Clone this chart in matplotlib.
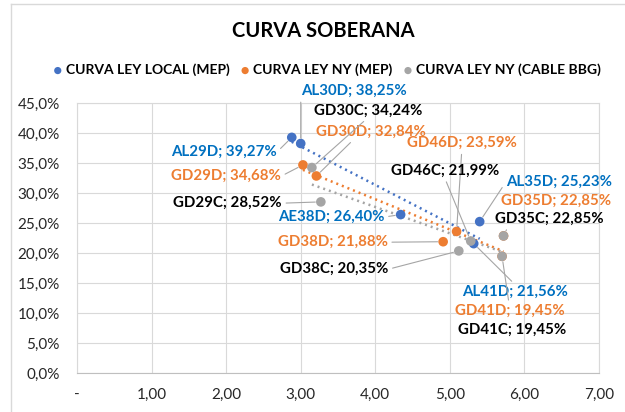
import numpy as np
import matplotlib
matplotlib.use("Agg")
import matplotlib.pyplot as plt
from matplotlib.ticker import FuncFormatter, MultipleLocator
from matplotlib.lines import Line2D

plt.rcParams['font.family'] = ['Lato', 'DejaVu Sans']

# Curva ley local (MEP)
local_nombres = ["AL29D", "AL30D", "AE38D", "AL35D", "AL41D"]
local_dur = [2.88, 3.00, 4.34, 5.40, 5.32]
local_tir = [39.27, 38.25, 26.40, 25.23, 21.56]

# Curva ley NY (MEP)
ny_nombres = ["GD29D", "GD30D", "GD38D", "GD46D", "GD35D", "GD41D"]
ny_dur = [3.03, 3.21, 4.91, 5.09, 5.72, 5.70]
ny_tir = [34.68, 32.84, 21.88, 23.59, 22.85, 19.45]

# Curva ley NY (cable BBG)
cable_nombres = ["GD29C", "GD30C", "GD38C", "GD46C", "GD35C", "GD41C"]
cable_dur = [3.27, 3.15, 5.12, 5.28, 5.72, 5.70]
cable_tir = [28.52, 34.24, 20.35, 21.99, 22.85, 19.45]

AZUL = "#4472C4"
NARANJA = "#ED7D31"
GRIS = "#A5A5A5"
AZUL_TXT = "#0070C0"

fig = plt.figure(figsize=(6.25, 4.12), dpi=100)
ax = fig.add_axes([77/625, 39/412, 522/625, 270/412])

# posicion de cada etiqueta (en datos) y punto de enganche de la linea guia
etiquetas = {
    "AL29D": ((1.97, 36.8), (1, 0.5)),
    "AL30D": ((3.71, 47.0), (0, 0.5)),
    "AE38D": ((3.41, 26.0), (1, 0.5)),
    "AL35D": ((6.46, 31.8), (0, 0.5)),
    "AL41D": ((5.88, 13.5), (0.5, 1)),
    "GD29D": ((2.00, 32.8), (1, 0.5)),
    "GD30D": ((3.94, 40.2), (0.35, 0)),
    "GD38D": ((3.43, 21.8), (1, 0.5)),
    "GD46D": ((5.16, 38.3), (0.5, 0)),
    "GD35D": ((6.43, 28.7), None),
    "GD41D": ((5.80, 10.3), (0.5, 0.8)),
    "GD29C": ((2.02, 28.3), (1, 0.5)),
    "GD30C": ((3.90, 43.7), (0.5, 0)),
    "GD38C": ((3.45, 17.3), (1, 0.5)),
    "GD46C": ((4.93, 33.7), (0.5, 0)),
    "GD35C": ((6.34, 25.7), (0.15, 0.5)),
    "GD41C": ((5.83, 7.2), None),
}

series = [
    ("CURVA LEY LOCAL (MEP)", local_nombres, local_dur, local_tir, AZUL, AZUL_TXT),
    ("CURVA LEY NY (MEP)", ny_nombres, ny_dur, ny_tir, NARANJA, NARANJA),
    ("CURVA LEY NY (CABLE BBG)", cable_nombres, cable_dur, cable_tir, GRIS, "black"),
]

for i, (nombre, nombres, dur, tir, color, ctxt) in enumerate(series):
    x = np.array(dur)
    y = np.array(tir)
    # linea de tendencia lineal
    m, b = np.polyfit(x, y, 1)
    xs = np.array([x.min(), x.max()])
    ax.plot(xs, m * xs + b, color=color, lw=1.8, linestyle=(0, (0.8, 1.6)),
            zorder=2)
    ax.scatter(x, y, s=48, color=color, zorder=3 + i, label=nombre,
               edgecolors='none')
    for n, xi, yi in zip(nombres, x, y):
        pos, rel = etiquetas[n]
        txt = "{}; {:.2f}%".format(n, yi).replace(".", ",")
        props = None
        if rel is not None:
            props = dict(arrowstyle='-', color=GRIS, lw=0.8, shrinkA=1,
                         shrinkB=4, relpos=rel)
        ax.annotate(txt, xy=(xi, yi), xytext=pos, textcoords='data',
                    ha='center', va='center', fontsize=10.8, fontweight='bold',
                    color=ctxt, arrowprops=props, annotation_clip=False,
                    zorder=6)

ax.set_xlim(0, 7)
ax.set_ylim(0, 45)
ax.xaxis.set_major_locator(MultipleLocator(1))
ax.yaxis.set_major_locator(MultipleLocator(5))
ax.xaxis.set_major_formatter(FuncFormatter(
    lambda v, p: "-" if v == 0 else "{:.2f}".format(v).replace(".", ",")))
ax.yaxis.set_major_formatter(FuncFormatter(
    lambda v, p: "{:.1f}%".format(v).replace(".", ",")))
ax.grid(True, color="#D9D9D9", lw=0.8, zorder=0)
ax.set_axisbelow(True)
for lado in ["left", "top", "right"]:
    ax.spines[lado].set_color("#D9D9D9")
    ax.spines[lado].set_linewidth(0.8)
ax.spines["bottom"].set_color("#BFBFBF")
ax.spines["bottom"].set_linewidth(0.8)
ax.tick_params(length=0, labelsize=11, colors="#262626")
ax.tick_params(axis='y', pad=12.5)
ax.tick_params(axis='x', pad=11)

fig.text(323/625, 1 - 31/412, "CURVA SOBERANA", ha='center', va='center',
         fontsize=14.5, fontweight='bold', color="black")
fig.legend(loc='center', bbox_to_anchor=(326/625, 1 - 70/412), ncol=3,
           frameon=False, prop=dict(weight='bold', size=10),
           handletextpad=0.1, columnspacing=0.6, markerscale=0.75,
           handlelength=1.0)

# borde del grafico
fig.add_artist(Line2D([11/625, 11/625], [0, 1 - 4/412], color="#D9D9D9",
                      lw=1, transform=fig.transFigure))
fig.add_artist(Line2D([11/625, 1], [1 - 4/412, 1 - 4/412], color="#D9D9D9",
                      lw=1, transform=fig.transFigure))

fig.savefig("out.png", dpi=100)
plt.close(fig)
